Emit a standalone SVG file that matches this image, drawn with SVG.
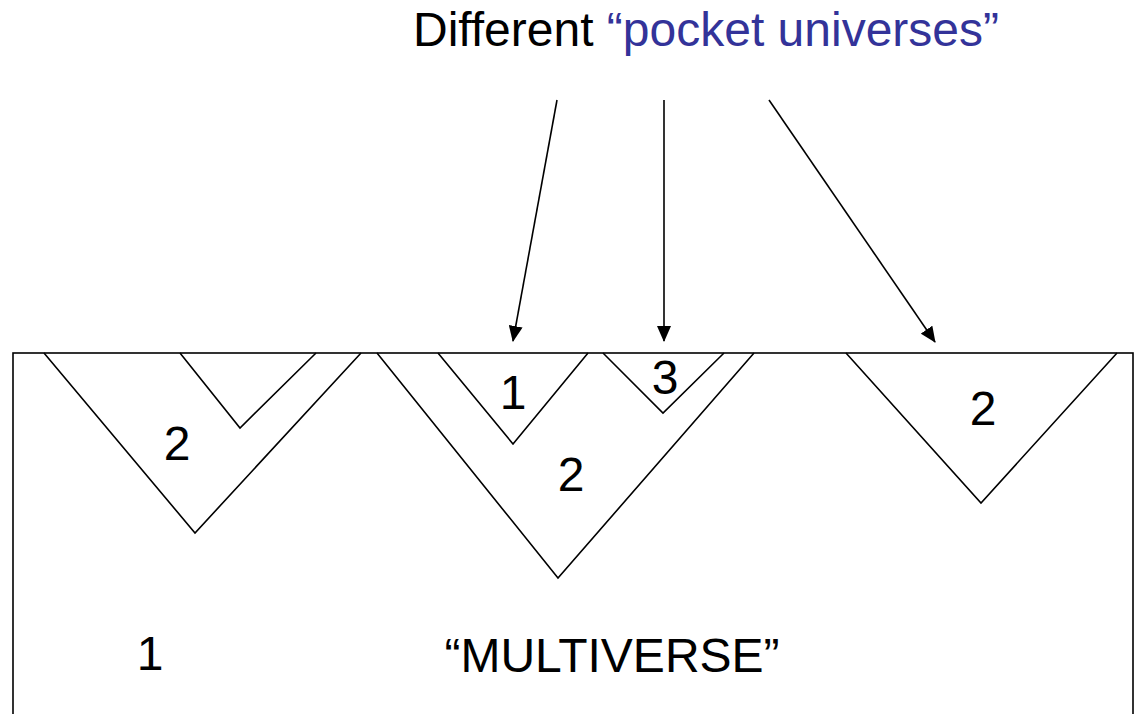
<svg xmlns="http://www.w3.org/2000/svg" width="1141" height="714" viewBox="0 0 1141 714">
<defs>
<style>
.ln{fill:none;stroke:#000;stroke-width:1.6}
.t{font-family:"Liberation Sans",Arial,sans-serif;font-size:48px;fill:#000;text-anchor:middle}
.arr{fill:none;stroke:#000;stroke-width:1.6}
</style>
<marker id="ah" markerWidth="16" markerHeight="14" viewBox="0 0 16 14" refX="15" refY="7" orient="auto" markerUnits="userSpaceOnUse">
<path d="M0,0 L16,7 L0,14 Z" fill="#000"/>
</marker>
</defs>
<rect width="1141" height="714" fill="#fff"/>
<g id="title">
<text class="t" x="706" y="46">Different <tspan fill="#333399">“pocket universes”</tspan></text>
</g>
<g id="multiverse">
<rect class="ln" x="13" y="353" width="1120" height="420" stroke-width="2"/>
<text class="t" x="150" y="670">1</text>
<text class="t" x="612" y="672">“MULTIVERSE”</text>
</g>
<g id="left-pocket">
<polyline class="ln" points="44,353 195,533 361,353"/>
<text class="t" x="177" y="460">2</text>
</g>
<g id="left-small">
<polyline class="ln" points="180,353 240,428 316,353"/>
</g>
<g id="middle-pocket">
<polyline class="ln" points="377,353 558,578 754,353"/>
<text class="t" x="571" y="491">2</text>
</g>
<g id="pocket-1">
<polyline class="ln" points="438,353 513,444 588,353"/>
<text class="t" x="513" y="409">1</text>
</g>
<g id="pocket-3">
<polyline class="ln" points="603,353 663,413 724,353"/>
<text class="t" x="665" y="394">3</text>
</g>
<g id="right-pocket">
<polyline class="ln" points="846,353 981,503 1117,353"/>
<text class="t" x="983" y="425">2</text>
</g>
<g id="connectors">
<line class="arr" x1="557" y1="100" x2="513" y2="341" marker-end="url(#ah)"/>
<line class="arr" x1="664" y1="100" x2="664" y2="341" marker-end="url(#ah)"/>
<line class="arr" x1="769" y1="100" x2="935" y2="342" marker-end="url(#ah)"/>
</g>
</svg>
